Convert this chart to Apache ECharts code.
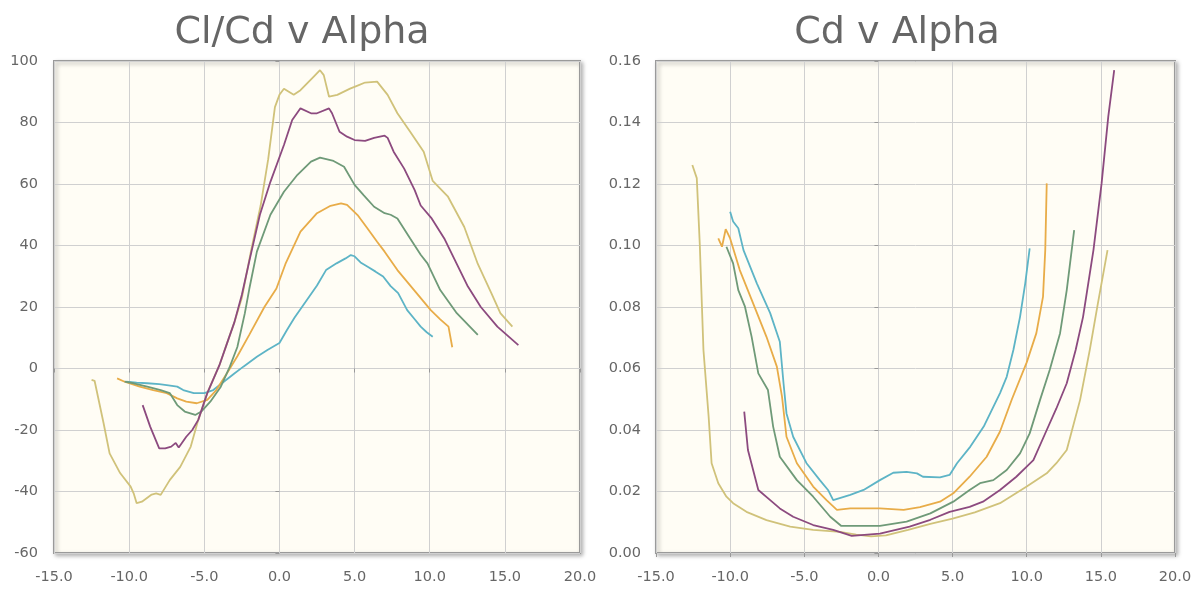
<!DOCTYPE html>
<html>
<head>
<meta charset="utf-8">
<script src="https://cdn.jsdelivr.net/npm/echarts@6/dist/echarts.min.js"></script>
<style>
html,body{margin:0;padding:0;background:#fff;}
#c{width:1196px;height:591px;}
</style>
</head>
<body>
<div id="c"></div>
<script>
// ---------- Cl/Cd v Alpha ----------
var clcdAlphaCyan = [-10.2,-9.5,-8.8,-8.0,-7.5,-6.8,-6.4,-5.7,-5.0,-4.4,-3.7,-3.0,-2.4,-1.5,-0.8,0.0,0.5,1.0,1.5,2.0,2.5,3.1,3.8,4.4,4.75,5.0,5.4,5.9,6.4,6.9,7.4,7.9,8.5,9.0,9.4,9.8,10.2];
var clcdCyan      = [-4.3,-4.6,-4.8,-5.1,-5.4,-5.9,-7.0,-8.0,-8.0,-7.0,-4.3,-1.6,0.6,3.8,6.0,8.3,12.5,16.5,20,23.5,27,32,34.2,35.8,36.9,36.5,34.5,33,31.5,29.9,26.8,24.5,19,16,13.6,11.8,10.3];

var clcdAlphaOrange = [-10.8,-10.3,-9.3,-8.4,-7.5,-6.8,-6.2,-5.5,-4.8,-4.2,-3.5,-2.8,-2.0,-1.0,-0.2,0.4,1.4,2.5,3.4,4.1,4.5,5.2,5.85,6.5,7.0,7.85,8.96,10.07,10.7,11.25,11.5];
var clcdOrange      = [-3.2,-4.3,-5.9,-7.0,-8.0,-9.7,-10.8,-11.3,-10.2,-7.0,-1.6,4,11,20,26,34,44.5,50.5,52.9,53.7,53.2,49.9,45.6,41.2,38,32,25.5,19,16,13.6,6.9];

var clcdAlphaGreen = [-10.3,-9.7,-8.8,-7.9,-7.3,-6.8,-6.3,-5.6,-5.2,-4.6,-3.9,-3.3,-2.8,-2.3,-2.0,-1.5,-0.6,0.3,1.2,2.1,2.7,3.6,4.3,5.0,5.6,6.3,7.0,7.4,7.85,8.7,9.4,9.85,10.7,11.8,13.2];
var clcdGreen      = [-4.3,-4.8,-5.9,-7.0,-8.0,-11.9,-14,-15.1,-14,-10.8,-5.9,0.6,7,18,26,38,50,57.5,63,67.3,68.6,67.5,65.6,59.7,56.4,52.6,50.5,50,48.8,42.3,37,34.2,25.5,18,10.9];

var clcdAlphaPurple = [-9.1,-8.6,-8.0,-7.6,-7.2,-6.9,-6.7,-6.2,-5.8,-5.4,-4.8,-4.0,-3.5,-3.0,-2.5,-2.0,-1.3,-0.6,0.3,0.85,1.4,2.1,2.5,3.3,3.5,4.0,4.5,5.0,5.7,6.3,7.0,7.2,7.6,8.3,9.0,9.4,10.1,11.0,11.7,12.5,13.4,14.5,15.9];
var clcdPurple      = [-11.9,-18.9,-26,-26,-25.4,-24.2,-25.7,-22.2,-20,-16.7,-8,1,8,15,24,35,50,60.7,72.7,80.8,84.6,83,83,84.6,83,77,75.4,74.3,74,75,75.7,75,70.5,65,58,53,49,42,35,27,20,13.6,7.6];

var clcdAlphaKhaki = [-12.5,-12.3,-11.7,-11.3,-10.6,-9.9,-9.7,-9.5,-9.15,-8.5,-8.2,-7.9,-7.3,-6.6,-5.9,-5.4,-4.8,-4.0,-3.5,-3.0,-2.5,-1.9,-1.25,-0.75,-0.3,0.0,0.3,0.95,1.4,2.3,2.7,2.95,3.3,3.85,4.7,5.2,5.7,6.5,7.2,7.85,8.7,9.6,10.2,11.2,12.3,13.2,14.1,14.7,15.5];
var clcdKhaki      = [-3.7,-4,-17.8,-27.6,-34,-38.4,-40.6,-43.8,-43.3,-41,-40.6,-41.1,-36.3,-32,-25.4,-16.7,-8,1,8,15,23,38,53,68,85,89,91,89,90.5,95,97,95.4,88.4,89,91,92,93,93.3,89,83,77,70.5,61,56,46,34,24.5,18,13.6];

// ---------- Cd v Alpha ----------
var cdAlphaCyan = [-10.0,-9.8,-9.45,-9.1,-8.2,-7.3,-6.65,-6.4,-6.2,-5.75,-4.85,-3.95,-3.4,-3.05,-1.9,-1.0,0.1,1.0,1.9,2.6,3.0,4.15,4.8,5.3,6.2,7.1,8.2,8.65,9.1,9.55,9.9,10.2];
var cdCyan      = [0.111,0.1078,0.1056,0.0985,0.0877,0.078,0.0687,0.0552,0.0454,0.0378,0.0292,0.0237,0.0205,0.0172,0.0189,0.0205,0.0237,0.0261,0.0264,0.0259,0.0248,0.0246,0.0254,0.0292,0.0346,0.0411,0.052,0.0573,0.066,0.0768,0.0877,0.0991];

var cdAlphaOrange = [-10.8,-10.55,-10.3,-10.0,-9.35,-8.45,-7.55,-6.85,-6.5,-6.2,-5.5,-4.4,-3.5,-2.8,-1.9,0.1,1.7,2.8,4.15,5.05,6.15,7.3,8.2,9.0,10.0,10.65,11.1,11.25,11.35];
var cdOrange      = [0.1023,0.0996,0.1053,0.1023,0.092,0.0812,0.0703,0.0606,0.0508,0.0378,0.0292,0.0216,0.0172,0.014,0.0145,0.0145,0.014,0.0149,0.0167,0.0194,0.0248,0.0313,0.0395,0.05,0.062,0.0715,0.0834,0.0985,0.1202];

var cdAlphaGreen = [-10.25,-9.8,-9.45,-9.0,-8.55,-8.1,-7.45,-7.1,-6.65,-5.5,-4.4,-3.25,-2.5,0.1,1.9,3.5,5.05,6.15,6.85,7.75,8.65,9.55,10.2,10.9,11.55,12.25,12.7,13.2];
var cdGreen      = [0.0996,0.0942,0.0855,0.0801,0.0703,0.0584,0.053,0.0411,0.0313,0.0237,0.0183,0.0118,0.0088,0.0088,0.0102,0.0129,0.0167,0.0205,0.0227,0.0237,0.027,0.0324,0.0389,0.0498,0.0595,0.0715,0.0855,0.105];

var cdAlphaPurple = [-9.05,-8.8,-8.1,-7.3,-6.65,-5.75,-4.4,-3.05,-1.8,0.1,2.1,3.5,4.8,6.15,7.05,8.2,9.3,10.0,10.45,11.35,12.0,12.7,13.3,13.8,14.5,15.05,15.5,15.9];
var cdPurple      = [0.046,0.0335,0.0205,0.0172,0.0145,0.0118,0.0091,0.0075,0.0056,0.0063,0.0086,0.0108,0.0134,0.015,0.0167,0.0205,0.0248,0.0281,0.0302,0.04,0.047,0.0552,0.066,0.0768,0.0985,0.1202,0.1419,0.157];

var cdAlphaKhaki = [-12.55,-12.25,-12.05,-11.8,-11.45,-11.25,-10.8,-10.25,-9.8,-8.9,-7.55,-5.95,-4.4,-2.6,-1.5,-0.5,0.5,2.0,3.5,5.0,6.5,8.2,10.0,11.35,12.0,12.7,13.6,14.25,14.8,15.45];
var cdKhaki      = [0.1262,0.1219,0.1007,0.066,0.0443,0.0292,0.0227,0.0183,0.0162,0.0134,0.0107,0.0086,0.0075,0.0069,0.006,0.0054,0.0057,0.0075,0.0095,0.0112,0.0132,0.0162,0.0216,0.0259,0.0292,0.0335,0.0498,0.066,0.0812,0.0985];

// tick settings
var xMin = -15, xMax = 20, xStep = 5;
var clcdMin = -60, clcdMax = 100, clcdStep = 20;
var cdMin = 0, cdMax = 0.16, cdStep = 0.02;

var COLORS = {cyan:'#5db4c6', orange:'#e8ac48', green:'#6f9a78', purple:'#8c4a7f', khaki:'#d0c27a'};

function pairs(xs, ys){ return xs.map(function(x,i){ return [x, ys[i]]; }); }

var chart = echarts.init(document.getElementById('c'), null, {renderer:'canvas'});

var labelStyle = {color:'#666', fontFamily:'DejaVu Sans', fontSize:14.5};
function xAxis(idx){
  return {
    type:'value', gridIndex:idx, min:xMin, max:xMax, interval:xStep,
    axisLine:{show:false},
    axisTick:{show:true, length:4, lineStyle:{color:'#999'}},
    splitLine:{show:true, lineStyle:{color:'#d0d0d0', width:1}},
    axisLabel:Object.assign({margin:17, formatter:function(v){return v.toFixed(1);}}, labelStyle)
  };
}
function yAxis(idx, min, max, step, dec, margin){
  return {
    type:'value', gridIndex:idx, min:min, max:max, interval:step,
    axisLine:{show:false},
    axisTick:{show:true, length:4, lineStyle:{color:'#999'}},
    splitLine:{show:true, lineStyle:{color:'#d0d0d0', width:1}},
    axisLabel:Object.assign({margin:margin, formatter:function(v){return v.toFixed(dec);}}, labelStyle)
  };
}
function line(name, data, color, idx){
  return {
    name:name, type:'line', xAxisIndex:idx, yAxisIndex:idx, data:data,
    showSymbol:false, symbol:'none', smooth:false, animation:false,
    lineStyle:{color:color, width:1.8}
  };
}
var gridStyle = {show:true, backgroundColor:'#fffdf5', borderColor:'#9a9a9a', borderWidth:2,
  shadowColor:'rgba(0,0,0,0.28)', shadowBlur:4, shadowOffsetX:2, shadowOffsetY:2};

chart.setOption({
  animation:false,
  title:[
    {text:'Cl/Cd v Alpha', left:302, top:14, textAlign:'center', padding:0,
     textStyle:{color:'#666', fontFamily:'DejaVu Sans', fontSize:38, fontWeight:'normal'}},
    {text:'Cd v Alpha', left:897, top:14, textAlign:'center', padding:0,
     textStyle:{color:'#666', fontFamily:'DejaVu Sans', fontSize:38, fontWeight:'normal'}}
  ],
  grid:[
    Object.assign({left:54, top:61, width:526, height:492}, gridStyle),
    Object.assign({left:656, top:61, width:519, height:492}, gridStyle)
  ],
  xAxis:[xAxis(0), xAxis(1)],
  yAxis:[yAxis(0, clcdMin, clcdMax, clcdStep, 0, 16), yAxis(1, cdMin, cdMax, cdStep, 2, 15)],
  series:[
    line('cyan', pairs(clcdAlphaCyan, clcdCyan), COLORS.cyan, 0),
    line('orange', pairs(clcdAlphaOrange, clcdOrange), COLORS.orange, 0),
    line('khaki', pairs(clcdAlphaKhaki, clcdKhaki), COLORS.khaki, 0),
    line('green', pairs(clcdAlphaGreen, clcdGreen), COLORS.green, 0),
    line('purple', pairs(clcdAlphaPurple, clcdPurple), COLORS.purple, 0),
    line('cyan', pairs(cdAlphaCyan, cdCyan), COLORS.cyan, 1),
    line('orange', pairs(cdAlphaOrange, cdOrange), COLORS.orange, 1),
    line('khaki', pairs(cdAlphaKhaki, cdKhaki), COLORS.khaki, 1),
    line('green', pairs(cdAlphaGreen, cdGreen), COLORS.green, 1),
    line('purple', pairs(cdAlphaPurple, cdPurple), COLORS.purple, 1)
  ]
});
</script>
</body>
</html>
